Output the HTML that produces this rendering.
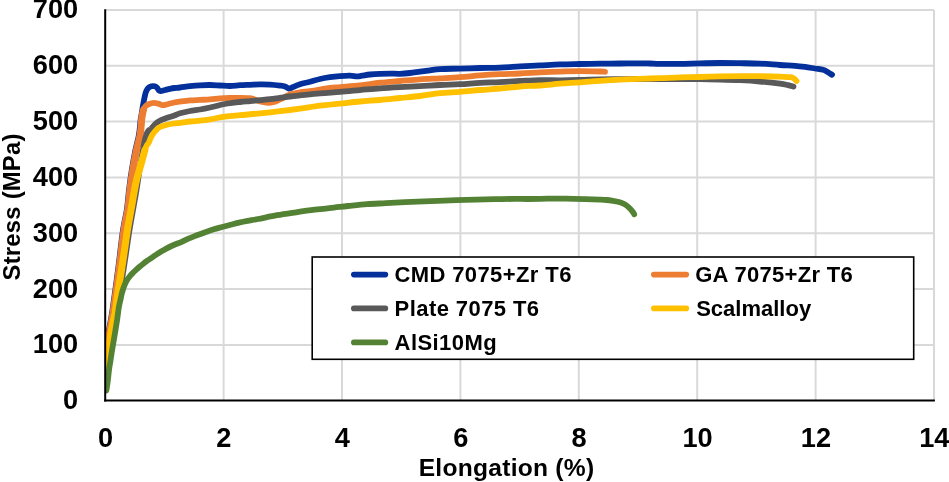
<!DOCTYPE html>
<html><head><meta charset="utf-8"><style>
html,body{margin:0;padding:0;background:#fff;}
svg{display:block;will-change:transform;}
text{font-family:"Liberation Sans",sans-serif;font-weight:bold;fill:#000;}
</style></head><body>
<svg width="949" height="482" viewBox="0 0 949 482">
<rect width="949" height="482" fill="#fff"/>
<g stroke="#d9d9d9" stroke-width="2" fill="none">
<line x1="105.2" y1="345.0" x2="934" y2="345.0"/>
<line x1="105.2" y1="289.1" x2="934" y2="289.1"/>
<line x1="105.2" y1="233.3" x2="934" y2="233.3"/>
<line x1="105.2" y1="177.5" x2="934" y2="177.5"/>
<line x1="105.2" y1="121.6" x2="934" y2="121.6"/>
<line x1="105.2" y1="65.8" x2="934" y2="65.8"/>
<line x1="105.2" y1="10.0" x2="934" y2="10.0"/>
<line x1="223.6" y1="10" x2="223.6" y2="400.8"/>
<line x1="342.0" y1="10" x2="342.0" y2="400.8"/>
<line x1="460.4" y1="10" x2="460.4" y2="400.8"/>
<line x1="578.8" y1="10" x2="578.8" y2="400.8"/>
<line x1="697.2" y1="10" x2="697.2" y2="400.8"/>
<line x1="815.6" y1="10" x2="815.6" y2="400.8"/>
<line x1="934.0" y1="10" x2="934.0" y2="400.8"/>
</g>
<defs><clipPath id="pa"><rect x="105.5" y="0" width="840" height="400"/></clipPath></defs>
<g fill="none" stroke-linejoin="round" stroke-linecap="round" stroke-width="5.8" clip-path="url(#pa)">
<path stroke="#03309b" d="M105.30,372.00 C105.38,368.33 105.18,357.00 105.80,350.00 C106.42,343.00 107.88,336.67 109.00,330.00 C110.12,323.33 111.00,320.00 112.50,310.00 C114.00,300.00 116.25,283.33 118.00,270.00 C119.75,256.67 121.53,240.00 123.00,230.00 C124.47,220.00 125.80,216.67 126.80,210.00 C127.80,203.33 128.17,196.67 129.00,190.00 C129.83,183.33 130.73,176.67 131.80,170.00 C132.87,163.33 134.32,155.33 135.40,150.00 C136.48,144.67 137.60,141.33 138.30,138.00 C139.00,134.67 139.22,133.00 139.60,130.00 C139.98,127.00 140.23,122.83 140.60,120.00 C140.97,117.17 141.42,115.33 141.80,113.00 C142.18,110.67 142.48,108.42 142.90,106.00 C143.32,103.58 143.80,100.83 144.30,98.50 C144.80,96.17 145.25,93.75 145.90,92.00 C146.55,90.25 147.28,88.95 148.20,88.00 C149.12,87.05 150.30,86.58 151.40,86.30 C152.50,86.02 153.85,86.05 154.80,86.30 C155.75,86.55 156.43,87.13 157.10,87.80 C157.77,88.47 158.23,89.75 158.80,90.30 C159.37,90.85 159.47,91.15 160.50,91.10 C161.53,91.05 163.42,90.38 165.00,90.00 C166.58,89.62 168.47,89.13 170.00,88.80 C171.53,88.47 172.53,88.22 174.20,88.00 C175.87,87.78 177.37,87.80 180.00,87.50 C182.63,87.20 186.67,86.57 190.00,86.20 C193.33,85.83 196.67,85.50 200.00,85.30 C203.33,85.10 206.67,84.97 210.00,85.00 C213.33,85.03 216.67,85.33 220.00,85.50 C223.33,85.67 226.67,86.05 230.00,86.00 C233.33,85.95 236.67,85.40 240.00,85.20 C243.33,85.00 246.67,84.93 250.00,84.80 C253.33,84.67 256.67,84.43 260.00,84.40 C263.33,84.37 266.67,84.40 270.00,84.60 C273.33,84.80 277.50,85.28 280.00,85.60 C282.50,85.92 283.50,86.00 285.00,86.50 C286.50,87.00 287.83,88.43 289.00,88.60 C290.17,88.77 290.17,88.23 292.00,87.50 C293.83,86.77 297.00,85.15 300.00,84.20 C303.00,83.25 306.67,82.67 310.00,81.80 C313.33,80.93 316.67,79.77 320.00,79.00 C323.33,78.23 326.67,77.68 330.00,77.20 C333.33,76.72 336.67,76.37 340.00,76.10 C343.33,75.83 347.17,75.55 350.00,75.60 C352.83,75.65 355.00,76.38 357.00,76.40 C359.00,76.42 359.83,76.02 362.00,75.70 C364.17,75.38 367.00,74.82 370.00,74.50 C373.00,74.18 376.67,73.95 380.00,73.80 C383.33,73.65 386.67,73.60 390.00,73.60 C393.33,73.60 396.67,73.90 400.00,73.80 C403.33,73.70 406.67,73.37 410.00,73.00 C413.33,72.63 416.67,72.05 420.00,71.60 C423.33,71.15 426.67,70.72 430.00,70.30 C433.33,69.88 435.00,69.38 440.00,69.10 C445.00,68.82 453.33,68.78 460.00,68.60 C466.67,68.42 473.33,68.17 480.00,68.00 C486.67,67.83 493.33,67.87 500.00,67.60 C506.67,67.33 513.33,66.77 520.00,66.40 C526.67,66.03 533.33,65.73 540.00,65.40 C546.67,65.07 553.33,64.63 560.00,64.40 C566.67,64.17 573.33,64.12 580.00,64.00 C586.67,63.88 593.33,63.78 600.00,63.70 C606.67,63.62 613.33,63.57 620.00,63.50 C626.67,63.43 635.00,63.30 640.00,63.30 C645.00,63.30 646.67,63.40 650.00,63.50 C653.33,63.60 655.00,63.83 660.00,63.90 C665.00,63.97 673.33,64.00 680.00,63.90 C686.67,63.80 693.33,63.45 700.00,63.30 C706.67,63.15 713.33,63.02 720.00,63.00 C726.67,62.98 733.33,63.10 740.00,63.20 C746.67,63.30 753.33,63.30 760.00,63.60 C766.67,63.90 774.17,64.63 780.00,65.00 C785.83,65.37 790.83,65.48 795.00,65.80 C799.17,66.12 801.67,66.45 805.00,66.90 C808.33,67.35 812.00,68.02 815.00,68.50 C818.00,68.98 820.83,69.18 823.00,69.80 C825.17,70.42 826.50,71.37 828.00,72.20 C829.50,73.03 831.33,74.37 832.00,74.80"/>
<path stroke="#ed7d31" d="M105.30,372.00 C105.55,368.33 106.02,357.00 106.80,350.00 C107.58,343.00 108.88,336.67 110.00,330.00 C111.12,323.33 112.00,320.00 113.50,310.00 C115.00,300.00 117.25,283.33 119.00,270.00 C120.75,256.67 122.53,240.00 124.00,230.00 C125.47,220.00 126.80,216.67 127.80,210.00 C128.80,203.33 129.17,196.67 130.00,190.00 C130.83,183.33 131.72,176.67 132.80,170.00 C133.88,163.33 135.38,155.33 136.50,150.00 C137.62,144.67 138.78,141.33 139.50,138.00 C140.22,134.67 140.45,133.00 140.80,130.00 C141.15,127.00 141.32,122.67 141.60,120.00 C141.88,117.33 142.17,115.75 142.50,114.00 C142.83,112.25 143.10,110.80 143.60,109.50 C144.10,108.20 144.58,107.12 145.50,106.20 C146.42,105.28 147.73,104.57 149.10,104.00 C150.47,103.43 152.18,102.87 153.70,102.80 C155.22,102.73 156.68,103.20 158.20,103.60 C159.72,104.00 161.27,105.10 162.80,105.20 C164.33,105.30 165.50,104.65 167.40,104.20 C169.30,103.75 172.10,102.93 174.20,102.50 C176.30,102.07 177.37,101.95 180.00,101.60 C182.63,101.25 186.67,100.68 190.00,100.40 C193.33,100.12 196.67,100.07 200.00,99.90 C203.33,99.73 206.67,99.65 210.00,99.40 C213.33,99.15 216.67,98.65 220.00,98.40 C223.33,98.15 226.67,98.00 230.00,97.90 C233.33,97.80 236.67,97.75 240.00,97.80 C243.33,97.85 247.33,97.83 250.00,98.20 C252.67,98.57 254.33,99.45 256.00,100.00 C257.67,100.55 258.00,101.03 260.00,101.50 C262.00,101.97 265.50,102.78 268.00,102.80 C270.50,102.82 273.00,102.15 275.00,101.60 C277.00,101.05 277.50,100.68 280.00,99.50 C282.50,98.32 286.67,95.70 290.00,94.50 C293.33,93.30 296.67,92.85 300.00,92.30 C303.33,91.75 306.67,91.67 310.00,91.20 C313.33,90.73 316.67,90.03 320.00,89.50 C323.33,88.97 326.67,88.40 330.00,88.00 C333.33,87.60 335.00,87.52 340.00,87.10 C345.00,86.68 353.33,86.23 360.00,85.50 C366.67,84.77 373.33,83.45 380.00,82.70 C386.67,81.95 393.33,81.57 400.00,81.00 C406.67,80.43 413.33,79.75 420.00,79.30 C426.67,78.85 433.33,78.65 440.00,78.30 C446.67,77.95 453.33,77.68 460.00,77.20 C466.67,76.72 473.33,75.90 480.00,75.40 C486.67,74.90 493.33,74.52 500.00,74.20 C506.67,73.88 513.33,73.80 520.00,73.50 C526.67,73.20 533.33,72.72 540.00,72.40 C546.67,72.08 553.33,71.80 560.00,71.60 C566.67,71.40 573.33,71.22 580.00,71.20 C586.67,71.18 595.83,71.40 600.00,71.50 C604.17,71.60 604.17,71.75 605.00,71.80"/>
<path stroke="#ed7d31" stroke-width="7" d="M105.30,372.00 C105.55,368.33 106.02,357.00 106.80,350.00 C107.58,343.00 108.88,336.67 110.00,330.00 C111.12,323.33 112.00,320.00 113.50,310.00 C115.00,300.00 117.25,283.33 119.00,270.00 C120.75,256.67 122.53,240.00 124.00,230.00 C125.47,220.00 126.80,216.67 127.80,210.00 C128.80,203.33 129.17,196.67 130.00,190.00 C130.83,183.33 131.72,176.67 132.80,170.00 C133.88,163.33 135.38,155.33 136.50,150.00 C137.62,144.67 138.78,141.33 139.50,138.00 C140.22,134.67 140.45,133.00 140.80,130.00 C141.15,127.00 141.32,122.67 141.60,120.00 C141.88,117.33 142.17,115.75 142.50,114.00 C142.83,112.25 143.42,110.25 143.60,109.50"/>
<path stroke="#595959" d="M105.30,371.00 C106.00,366.67 108.05,354.33 109.50,345.00 C110.95,335.67 112.67,322.50 114.00,315.00 C115.33,307.50 116.33,305.00 117.50,300.00 C118.67,295.00 120.00,290.00 121.00,285.00 C122.00,280.00 122.58,275.83 123.50,270.00 C124.42,264.17 125.50,256.67 126.50,250.00 C127.50,243.33 128.42,236.67 129.50,230.00 C130.58,223.33 131.83,216.67 133.00,210.00 C134.17,203.33 135.42,196.67 136.50,190.00 C137.58,183.33 138.42,176.67 139.50,170.00 C140.58,163.33 142.22,154.50 143.00,150.00 C143.78,145.50 143.80,145.00 144.20,143.00 C144.60,141.00 144.93,139.67 145.40,138.00 C145.87,136.33 146.40,134.33 147.00,133.00 C147.60,131.67 148.42,130.58 149.00,130.00 C149.58,129.42 149.53,130.42 150.50,129.50 C151.47,128.58 153.38,125.88 154.80,124.50 C156.22,123.12 157.25,122.20 159.00,121.20 C160.75,120.20 162.83,119.40 165.30,118.50 C167.77,117.60 171.35,116.67 173.80,115.80 C176.25,114.93 177.30,114.10 180.00,113.30 C182.70,112.50 186.67,111.63 190.00,111.00 C193.33,110.37 196.67,110.08 200.00,109.50 C203.33,108.92 205.83,108.42 210.00,107.50 C214.17,106.58 220.00,104.92 225.00,104.00 C230.00,103.08 235.83,102.48 240.00,102.00 C244.17,101.52 246.67,101.42 250.00,101.10 C253.33,100.78 256.67,100.43 260.00,100.10 C263.33,99.77 266.67,99.48 270.00,99.10 C273.33,98.72 276.67,98.23 280.00,97.80 C283.33,97.37 286.67,96.90 290.00,96.50 C293.33,96.10 295.00,95.93 300.00,95.40 C305.00,94.87 313.33,93.88 320.00,93.30 C326.67,92.72 333.33,92.43 340.00,91.90 C346.67,91.37 353.33,90.70 360.00,90.10 C366.67,89.50 373.33,88.80 380.00,88.30 C386.67,87.80 393.33,87.45 400.00,87.10 C406.67,86.75 413.33,86.55 420.00,86.20 C426.67,85.85 433.33,85.33 440.00,85.00 C446.67,84.67 453.33,84.55 460.00,84.20 C466.67,83.85 473.33,83.25 480.00,82.90 C486.67,82.55 493.33,82.42 500.00,82.10 C506.67,81.78 513.33,81.33 520.00,81.00 C526.67,80.67 533.33,80.22 540.00,80.10 C546.67,79.98 553.33,80.32 560.00,80.30 C566.67,80.28 573.33,80.15 580.00,80.00 C586.67,79.85 593.33,79.53 600.00,79.40 C606.67,79.27 613.33,79.27 620.00,79.20 C626.67,79.13 633.33,79.03 640.00,79.00 C646.67,78.97 653.33,79.00 660.00,79.00 C666.67,79.00 673.33,78.98 680.00,79.00 C686.67,79.02 693.33,79.02 700.00,79.10 C706.67,79.18 713.33,79.32 720.00,79.50 C726.67,79.68 733.33,79.87 740.00,80.20 C746.67,80.53 753.33,80.93 760.00,81.50 C766.67,82.07 775.33,82.98 780.00,83.60 C784.67,84.22 785.75,84.70 788.00,85.20 C790.25,85.70 792.58,86.37 793.50,86.60"/>
<path stroke="#ffc000" d="M105.30,373.00 C105.58,370.83 106.48,363.83 107.00,360.00 C107.52,356.17 107.73,354.50 108.40,350.00 C109.07,345.50 110.15,338.00 111.00,333.00 C111.85,328.00 112.75,323.83 113.50,320.00 C114.25,316.17 114.70,315.00 115.50,310.00 C116.30,305.00 117.30,296.67 118.30,290.00 C119.30,283.33 120.47,276.67 121.50,270.00 C122.53,263.33 123.52,256.67 124.50,250.00 C125.48,243.33 126.32,236.67 127.40,230.00 C128.48,223.33 129.82,216.67 131.00,210.00 C132.18,203.33 133.50,195.33 134.50,190.00 C135.50,184.67 136.18,181.33 137.00,178.00 C137.82,174.67 138.53,173.00 139.40,170.00 C140.27,167.00 141.28,163.33 142.20,160.00 C143.12,156.67 144.15,152.42 144.90,150.00 C145.65,147.58 146.08,146.67 146.70,145.50 C147.32,144.33 147.93,144.25 148.60,143.00 C149.27,141.75 149.97,139.50 150.70,138.00 C151.43,136.50 152.20,135.20 153.00,134.00 C153.80,132.80 154.50,131.88 155.50,130.80 C156.50,129.72 157.37,128.43 159.00,127.50 C160.63,126.57 162.83,125.87 165.30,125.20 C167.77,124.53 171.35,123.90 173.80,123.50 C176.25,123.10 177.30,123.13 180.00,122.80 C182.70,122.47 186.67,121.87 190.00,121.50 C193.33,121.13 196.67,120.97 200.00,120.60 C203.33,120.23 205.83,119.95 210.00,119.30 C214.17,118.65 220.00,117.38 225.00,116.70 C230.00,116.02 234.17,115.75 240.00,115.20 C245.83,114.65 253.33,114.07 260.00,113.40 C266.67,112.73 273.33,112.00 280.00,111.20 C286.67,110.40 293.33,109.53 300.00,108.60 C306.67,107.67 313.33,106.43 320.00,105.60 C326.67,104.77 333.33,104.28 340.00,103.60 C346.67,102.92 353.33,102.10 360.00,101.50 C366.67,100.90 373.33,100.58 380.00,100.00 C386.67,99.42 393.33,98.67 400.00,98.00 C406.67,97.33 413.33,96.80 420.00,96.00 C426.67,95.20 433.33,93.88 440.00,93.20 C446.67,92.52 453.33,92.43 460.00,91.90 C466.67,91.37 473.33,90.57 480.00,90.00 C486.67,89.43 493.33,89.08 500.00,88.50 C506.67,87.92 513.33,87.00 520.00,86.50 C526.67,86.00 533.33,85.97 540.00,85.50 C546.67,85.03 553.33,84.23 560.00,83.70 C566.67,83.17 573.33,82.78 580.00,82.30 C586.67,81.82 593.33,81.25 600.00,80.80 C606.67,80.35 613.33,79.93 620.00,79.60 C626.67,79.27 633.33,79.03 640.00,78.80 C646.67,78.57 653.33,78.43 660.00,78.20 C666.67,77.97 673.33,77.60 680.00,77.40 C686.67,77.20 693.33,77.17 700.00,77.00 C706.67,76.83 713.33,76.55 720.00,76.40 C726.67,76.25 733.33,76.13 740.00,76.10 C746.67,76.07 753.33,76.12 760.00,76.20 C766.67,76.28 775.00,76.43 780.00,76.60 C785.00,76.77 787.67,76.88 790.00,77.20 C792.33,77.52 792.92,77.87 794.00,78.50 C795.08,79.13 796.08,80.58 796.50,81.00"/>
<path stroke="#ffc000" stroke-width="7" d="M105.30,373.00 C105.58,370.83 106.48,363.83 107.00,360.00 C107.52,356.17 107.73,354.50 108.40,350.00 C109.07,345.50 110.15,338.00 111.00,333.00 C111.85,328.00 112.75,323.83 113.50,320.00 C114.25,316.17 114.70,315.00 115.50,310.00 C116.30,305.00 117.30,296.67 118.30,290.00 C119.30,283.33 120.47,276.67 121.50,270.00 C122.53,263.33 123.52,256.67 124.50,250.00 C125.48,243.33 126.32,236.67 127.40,230.00 C128.48,223.33 129.82,216.67 131.00,210.00 C132.18,203.33 133.50,195.33 134.50,190.00 C135.50,184.67 136.18,181.33 137.00,178.00 C137.82,174.67 138.53,173.00 139.40,170.00 C140.27,167.00 141.28,163.33 142.20,160.00 C143.12,156.67 144.45,151.67 144.90,150.00"/>
<path stroke="#548235" d="M106.30,390.60 C106.52,389.23 107.15,385.83 107.60,382.40 C108.05,378.97 108.50,373.73 109.00,370.00 C109.50,366.27 110.08,363.33 110.60,360.00 C111.12,356.67 111.45,354.00 112.10,350.00 C112.75,346.00 113.67,341.00 114.50,336.00 C115.33,331.00 116.40,324.65 117.10,320.00 C117.80,315.35 118.17,311.35 118.70,308.10 C119.23,304.85 119.78,302.92 120.30,300.50 C120.82,298.08 121.30,295.60 121.80,293.60 C122.30,291.60 122.78,290.07 123.30,288.50 C123.82,286.93 124.23,285.68 124.90,284.20 C125.57,282.72 126.43,280.98 127.30,279.60 C128.17,278.22 129.13,277.07 130.10,275.90 C131.07,274.73 132.07,273.63 133.10,272.60 C134.13,271.57 135.17,270.72 136.30,269.70 C137.43,268.68 138.68,267.53 139.90,266.50 C141.12,265.47 142.42,264.43 143.60,263.50 C144.78,262.57 145.82,261.75 147.00,260.90 C148.18,260.05 149.22,259.40 150.70,258.40 C152.18,257.40 154.17,256.03 155.90,254.90 C157.63,253.77 159.37,252.65 161.10,251.60 C162.83,250.55 164.57,249.53 166.30,248.60 C168.03,247.67 169.77,246.80 171.50,246.00 C173.23,245.20 175.28,244.37 176.70,243.80 C178.12,243.23 178.05,243.47 180.00,242.60 C181.95,241.73 185.58,239.82 188.40,238.60 C191.22,237.38 194.08,236.37 196.90,235.30 C199.72,234.23 202.50,233.20 205.30,232.20 C208.10,231.20 210.88,230.17 213.70,229.30 C216.52,228.43 219.38,227.75 222.20,227.00 C225.02,226.25 227.80,225.53 230.60,224.80 C233.40,224.07 236.18,223.27 239.00,222.60 C241.82,221.93 244.33,221.40 247.50,220.80 C250.67,220.20 253.08,219.93 258.00,219.00 C262.92,218.07 270.67,216.32 277.00,215.20 C283.33,214.08 289.67,213.22 296.00,212.30 C302.33,211.38 308.67,210.48 315.00,209.70 C321.33,208.92 328.50,208.22 334.00,207.60 C339.50,206.98 342.50,206.58 348.00,206.00 C353.50,205.42 360.67,204.57 367.00,204.10 C373.33,203.63 379.67,203.52 386.00,203.20 C392.33,202.88 398.67,202.52 405.00,202.20 C411.33,201.88 418.50,201.53 424.00,201.30 C429.50,201.07 432.50,201.00 438.00,200.80 C443.50,200.60 450.67,200.30 457.00,200.10 C463.33,199.90 469.67,199.75 476.00,199.60 C482.33,199.45 488.67,199.32 495.00,199.20 C501.33,199.08 508.50,198.93 514.00,198.90 C519.50,198.87 522.50,199.03 528.00,199.00 C533.50,198.97 540.67,198.75 547.00,198.70 C553.33,198.65 559.67,198.63 566.00,198.70 C572.33,198.77 579.33,198.95 585.00,199.10 C590.67,199.25 596.40,199.45 600.00,199.60 C603.60,199.75 604.38,199.77 606.60,200.00 C608.82,200.23 611.08,200.62 613.30,201.00 C615.52,201.38 618.02,201.75 619.90,202.30 C621.78,202.85 623.27,203.58 624.60,204.30 C625.93,205.02 626.92,205.78 627.90,206.60 C628.88,207.42 629.62,208.20 630.50,209.20 C631.38,210.20 632.58,211.77 633.20,212.60 C633.82,213.43 634.03,213.93 634.20,214.20"/>
</g>
<g stroke="#000" stroke-width="2" fill="none">
<line x1="105.2" y1="9.3" x2="105.2" y2="401.4"/>
<line x1="104.2" y1="400.45" x2="934.9" y2="400.45"/>
</g>
<g font-size="27.2px">
<text x="78.2" y="409.2" text-anchor="end">0</text>
<text x="78.2" y="353.4" text-anchor="end">100</text>
<text x="78.2" y="297.5" text-anchor="end">200</text>
<text x="78.2" y="241.7" text-anchor="end">300</text>
<text x="78.2" y="185.9" text-anchor="end">400</text>
<text x="78.2" y="130.0" text-anchor="end">500</text>
<text x="78.2" y="74.2" text-anchor="end">600</text>
<text x="78.2" y="18.4" text-anchor="end">700</text>
<text x="105.5" y="447.1" text-anchor="middle">0</text>
<text x="223.9" y="447.1" text-anchor="middle">2</text>
<text x="342.3" y="447.1" text-anchor="middle">4</text>
<text x="460.7" y="447.1" text-anchor="middle">6</text>
<text x="579.1" y="447.1" text-anchor="middle">8</text>
<text x="697.5" y="447.1" text-anchor="middle">10</text>
<text x="815.9" y="447.1" text-anchor="middle">12</text>
<text x="934.3" y="447.1" text-anchor="middle">14</text>
</g>
<text font-size="24.6px" x="506.4" y="475.6" text-anchor="middle" textLength="175.5" lengthAdjust="spacing">Elongation (%)</text>
<text font-size="23.8px" transform="translate(20.2,207) rotate(-90)" text-anchor="middle" textLength="146.8" lengthAdjust="spacing">Stress (MPa)</text>
<rect x="312.2" y="257" width="601.5" height="102.3" fill="#fff" stroke="#000" stroke-width="1.6"/>
<g stroke-width="5.6" stroke-linecap="round">
<line x1="353.8" y1="274.6" x2="385.4" y2="274.6" stroke="#03309b"/>
<line x1="653.8" y1="274.6" x2="686.3" y2="274.6" stroke="#ed7d31"/>
<line x1="353.8" y1="308.4" x2="385.4" y2="308.4" stroke="#595959"/>
<line x1="653.8" y1="308.4" x2="686.3" y2="308.4" stroke="#ffc000"/>
<line x1="353.8" y1="342.4" x2="385.4" y2="342.4" stroke="#548235"/>
</g>
<g font-size="22px">
<text x="394.4" y="282" textLength="177" lengthAdjust="spacing">CMD 7075+Zr T6</text>
<text x="695.2" y="282" textLength="157.5" lengthAdjust="spacing">GA 7075+Zr T6</text>
<text x="394.6" y="315.8" textLength="144.5" lengthAdjust="spacing">Plate 7075 T6</text>
<text x="696.2" y="315.8">Scalmalloy</text>
<text x="394.6" y="349.8" textLength="102" lengthAdjust="spacing">AlSi10Mg</text>
</g>
</svg>
</body></html>
